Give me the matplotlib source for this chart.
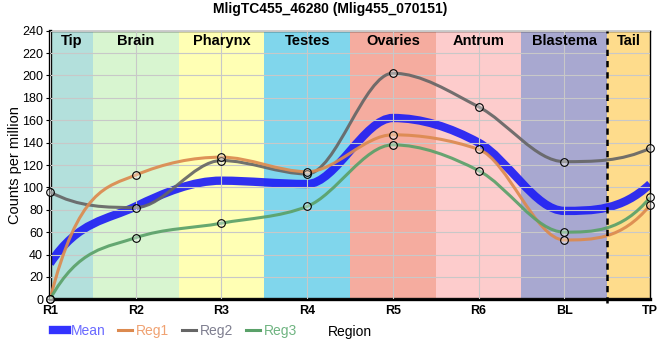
import numpy as np
import matplotlib
matplotlib.use("Agg")
import matplotlib.pyplot as plt
from matplotlib.path import Path
from matplotlib.patches import PathPatch
from matplotlib.lines import Line2D

plt.rcParams['font.family'] = ['Liberation Sans', 'DejaVu Sans']

TITLE = "MligTC455_46280 (Mlig455_070151)"
ticks = ["R1", "R2", "R3", "R4", "R5", "R6", "BL", "TP"]
regions = ["Tip", "Brain", "Pharynx", "Testes", "Ovaries", "Antrum", "Blastema", "Tail"]
region_colors = ["#b3e0dc", "#d8f5d0", "#ffffb4", "#80d6ec",
                 "#f5ac9f", "#fdcccc", "#a8a8d0", "#fedc8c"]

mean = [32, 83, 106, 103, 162, 140, 79, 103]
reg1 = [0, 111, 127, 114, 147, 134, 53, 84]
reg2 = [96, 82, 124, 112, 202, 172, 123, 135]
reg3 = [0, 55, 68, 83, 138, 115, 60, 91]


def smooth_path(xs, ys):
    # monotone cubic through the points, drawn as bezier segments
    xs = np.asarray(xs, float)
    ys = np.asarray(ys, float)
    n = len(xs)
    h = np.diff(xs)
    d = np.diff(ys) / h
    t = np.zeros(n)
    for i in range(1, n - 1):
        s0, s1 = d[i - 1], d[i]
        p = (s0 * h[i] + s1 * h[i - 1]) / (h[i - 1] + h[i])
        t[i] = (np.sign(s0) + np.sign(s1)) * min(abs(s0), abs(s1), 0.5 * abs(p))
    t[0] = 3 * d[0] - t[1]
    t[-1] = 3 * d[-1] - t[-2]
    verts = [(xs[0], ys[0])]
    codes = [Path.MOVETO]
    for i in range(n - 1):
        dx = h[i] / 3
        verts += [(xs[i] + dx, ys[i] + dx * t[i]),
                  (xs[i + 1] - dx, ys[i + 1] - dx * t[i + 1]),
                  (xs[i + 1], ys[i + 1])]
        codes += [Path.CURVE4] * 3
    return Path(verts, codes)


fig = plt.figure(figsize=(6.6, 3.6), dpi=100)
ax = fig.add_axes([50 / 660, 60.7 / 360, 600 / 660, 268.6 / 360])

x = np.arange(len(ticks))
last = len(ticks) - 1

# region bands
for i, (name, col) in enumerate(zip(regions, region_colors)):
    lo = max(i - 0.5, 0)
    hi = min(i + 0.5, last)
    ax.axvspan(lo, hi, color=col, lw=0, zorder=0)
    ax.text((lo + hi) / 2, 0.962, name, transform=ax.get_xaxis_transform(),
            ha="center", va="center", fontsize=10.5, fontweight="bold", zorder=6)

# blastema / tail separator
ax.plot([last - 0.5, last - 0.5], [-3, 240], color="black", lw=1.8,
        ls=(0, (2.5, 2)), zorder=5, clip_on=False)

series = [
    ("Mean", mean, "#1f1ff5", 6.0, "#6a6aff", False),
    ("Reg2", reg2, "#666666", 2.2, "#7f7f90", True),
    ("Reg1", reg1, "#dc8a4f", 2.2, "#f0a272", True),
    ("Reg3", reg3, "#5aa169", 2.2, "#6fb481", True),
]

for name, vals, col, lw, tcol, mark in series:
    ax.add_patch(PathPatch(smooth_path(x, vals), fill=False, edgecolor=col,
                           lw=lw, alpha=0.92, zorder=3 if mark else 2))
    if mark:
        ax.plot(x, vals, ls="none", marker="o", ms=5.5, mfc=(1, 1, 1, 0.35),
                mec="black", mew=0.8, zorder=4, clip_on=False)

ax.set_xlim(0, last)
ax.set_ylim(0, 240)
ax.set_yticks(np.arange(0, 241, 20))
ax.set_xticks(x)
ax.set_xticklabels(ticks, fontsize=9, fontweight="bold")
ax.tick_params(axis="y", labelsize=9, length=3, width=0.8, pad=2)
ax.tick_params(axis="x", length=0, pad=4)
ax.grid(True, color="#c8c8c8", lw=0.8)
ax.set_axisbelow(False)
for gl in ax.get_xgridlines() + ax.get_ygridlines():
    gl.set_zorder(1)

ax.spines["left"].set_linewidth(2.4)
ax.spines["bottom"].set_linewidth(2.4)
ax.spines["top"].set_linewidth(1.0)
ax.spines["right"].set_linewidth(1.0)

ax.set_ylabel("Counts per million", fontsize=10.5, labelpad=0)
fig.text(0.5, 0.975, TITLE, ha="center", va="center", fontsize=10, fontweight="bold")

# legend + axis label on the same row
handles = [Line2D([], [], color="#3333ff", lw=6),
           Line2D([], [], color="#dc8a4f", lw=2.2),
           Line2D([], [], color="#666666", lw=2.2),
           Line2D([], [], color="#5aa169", lw=2.2)]
labels = ["Mean", "Reg1", "Reg2", "Reg3"]
leg = fig.legend(handles, labels, loc="center left",
                 bbox_to_anchor=(53 / 660, 1 - 331 / 360), ncol=4, frameon=False,
                 fontsize=10, handlelength=1.0, handletextpad=0.3,
                 columnspacing=0.9, borderpad=0, borderaxespad=0)
for txt, (_, _, _, _, tcol, _) in zip(leg.get_texts(), [series[0], series[2], series[1], series[3]]):
    txt.set_color(tcol)
fig.text(350 / 660, 1 - 332 / 360, "Region", ha="center", va="center", fontsize=10)

fig.savefig("out.png", dpi=100)
